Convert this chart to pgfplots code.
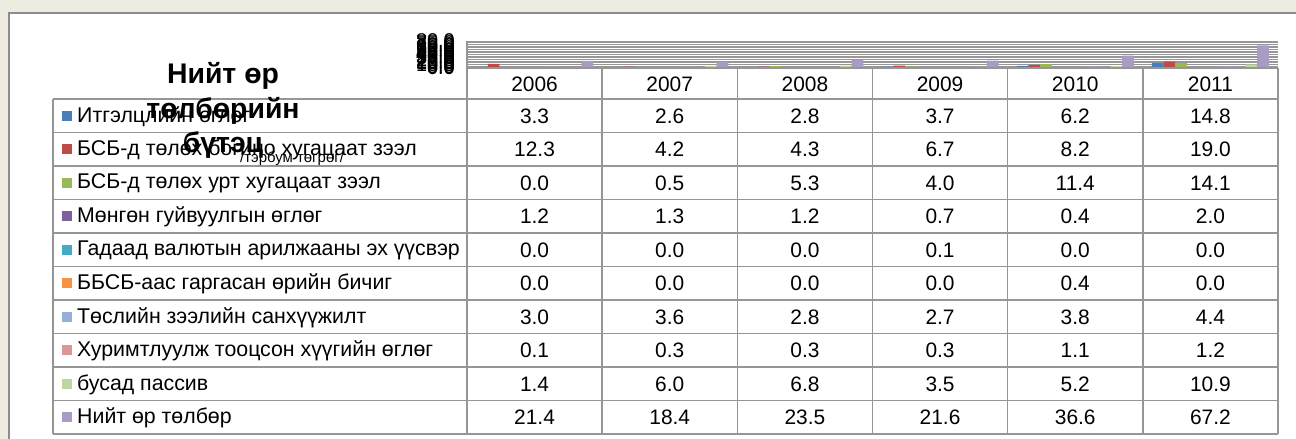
\documentclass[border=0pt]{standalone}
\usepackage{pgfplots}
\pgfplotsset{compat=1.18}
\usepackage{pgfplotstable}
\usepackage{fontspec}
\setmainfont{Liberation Sans}

\definecolor{bgbeige}{HTML}{EEECE1}
\definecolor{framegray}{HTML}{8C8C8C}
\definecolor{linegray}{HTML}{969696}
\definecolor{c1}{HTML}{4A7EBB}
\definecolor{c2}{HTML}{BE4B48}
\definecolor{c3}{HTML}{98B954}
\definecolor{c4}{HTML}{7D60A0}
\definecolor{c5}{HTML}{46AAC5}
\definecolor{c6}{HTML}{F69240}
\definecolor{c7}{HTML}{95AFDA}
\definecolor{c8}{HTML}{D99795}
\definecolor{c9}{HTML}{BED69F}
\definecolor{c10}{HTML}{A99BC4}

\pgfplotstableread{
x year s1 s2 s3 s4 s5 s6 s7 s8 s9 s10
0 2006 3.3 12.3 0.0 1.2 0.0 0.0 3.0 0.1 1.4 21.4
1 2007 2.6 4.2 0.5 1.3 0.0 0.0 3.6 0.3 6.0 18.4
2 2008 2.8 4.3 5.3 1.2 0.0 0.0 2.8 0.3 6.8 23.5
3 2009 3.7 6.7 4.0 0.7 0.1 0.0 2.7 0.3 3.5 21.6
4 2010 6.2 8.2 11.4 0.4 0.0 0.4 3.8 1.1 5.2 36.6
5 2011 14.8 19.0 14.1 2.0 0.0 0.0 4.4 1.2 10.9 67.2
}\datatable

\newcommand{\tfont}{\fontsize{21}{21}\selectfont}
\newcommand{\lfont}{\fontsize{21.4}{21.4}\selectfont}

\begin{document}
\begin{tikzpicture}[x=1bp,y=1bp]
\useasboundingbox (0,0) rectangle (1296,439);
\clip (0,0) rectangle (1296,439);
\fill[bgbeige] (0,0) rectangle (1296,439);
\filldraw[fill=white, draw=framegray, line width=2bp] (9,426) rectangle (1310,-10);

\begin{axis}[
  at={(467bp,371bp)}, anchor=south west,
  scale only axis, width=811bp, height=27bp,
  xmin=-0.5, xmax=5.5, ymin=0, ymax=80,
  xtick=\empty,
  ytick={0,5,...,80},
  ymajorgrids,
  grid style={draw=linegray, line width=0.9bp},
  axis x line=none,
  axis y line*=left,
  y axis line style={draw=linegray, line width=1.2bp, -},
  major tick length=0pt,
  ybar=0pt, bar width=11.7bp,
  clip=false,
  /pgf/number format/assume math mode=true,
  yticklabel style={font=\fontsize{20}{20}\selectfont, inner sep=0pt, xshift=-12bp,
    /pgf/number format/.cd, fixed, fixed zerofill, precision=1, assume math mode=true},
]
\foreach \k in {1,...,10}{
  \edef\tmp{\noexpand\addplot[draw=none, fill=c\k] table[x=x, y=s\k] {\noexpand\datatable};}
  \tmp
}
\end{axis}

% table lines
\begin{scope}[draw=linegray, line width=1.5bp]
\foreach \r in {0,...,10}{
  \draw (53, {439-99-\r*33.5}) -- (1278, {439-99-\r*33.5});
}
\draw (467,371) -- (1278,371);
\draw (53,340) -- (53,5);
\foreach \c in {0,...,6}{
  \draw ({467+\c*135.1667},371) -- ({467+\c*135.1667},5);
}
\end{scope}

% header years
\foreach \j in {0,...,5}{
  \pgfplotstablegetelem{\j}{year}\of\datatable
  \edef\myval{\pgfplotsretval}
  \node[font=\tfont, inner sep=0pt] at ({467+(\j+0.5)*135.1667}, 439-84.5) {\vphantom{0}\myval};
}

% row labels and values
\foreach \name [count=\i] in {
  {Итгэлцлийн өглөг},
  {БСБ-д төлөх богино хугацаат зээл},
  {БСБ-д төлөх урт хугацаат зээл},
  {Мөнгөн гуйвуулгын өглөг},
  {Гадаад валютын арилжааны эх үүсвэр},
  {ББСБ-аас гаргасан өрийн бичиг},
  {Төслийн зээлийн санхүүжилт},
  {Хуримтлуулж тооцсон хүүгийн өглөг},
  {бусад пассив},
  {Нийт өр төлбөр}}{
  \pgfmathsetmacro{\yc}{439-99-(\i-0.5)*33.5}
  \fill[c\i] (61.7,\yc-5) rectangle (71.7,\yc+5);
  \node[anchor=west, inner sep=0pt, font=\lfont] at (77,\yc-1) {\vphantom{Ау}\name};
  \foreach \j in {0,...,5}{
    \pgfplotstablegetelem{\j}{s\i}\of\datatable
    \edef\myval{\pgfplotsretval}
    \node[font=\tfont, inner sep=0pt] at ({467+(\j+0.5)*135.1667}, \yc-0.5)
      {\vphantom{0}\pgfmathprintnumber[fixed, fixed zerofill, precision=1, assume math mode=true]{\myval}};
  }
}

% title
\begin{scope}[font=\fontsize{28.5}{28.5}\selectfont\bfseries]
\node[anchor=base, inner sep=0pt] at (223, 439-84) {Нийт өр};
\node[anchor=base, inner sep=0pt] at (223, 439-118.5) {төлбөрийн};
\node[anchor=base, inner sep=0pt] at (223, 439-153) {бүтэц};
\end{scope}
\node[anchor=base west, inner sep=0pt, font=\fontsize{15}{15}\selectfont] at (240, 439-163) {/тэрбум төгрөг/};
\end{tikzpicture}
\end{document}
